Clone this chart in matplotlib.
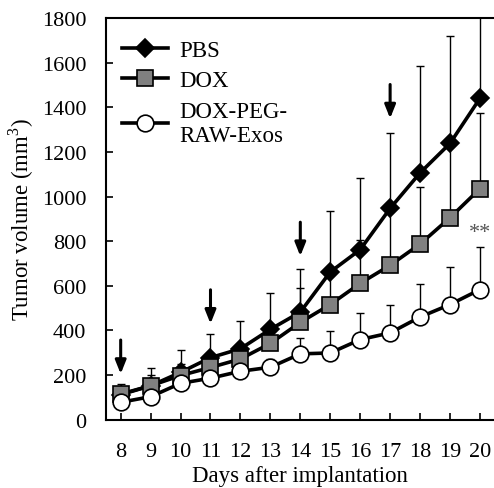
import matplotlib
matplotlib.use("Agg")
import matplotlib.pyplot as plt
import numpy as np

days = [8, 9, 10, 11, 12, 13, 14, 15, 16, 17, 18, 19, 20]
pbs_mean = [112, 152, 212, 278, 318, 405, 482, 662, 762, 947, 1106, 1238, 1440]
pbs_top = [158, 231, 312, 385, 443, 566, 674, 935, 1084, 1283, 1585, 1720, 1840]
dox_mean = [115, 152, 198, 234, 272, 342, 436, 516, 611, 692, 787, 905, 1035]
dox_top = [140, 200, 250, 290, 330, 400, 590, 655, 806, 940, 1041, 1240, 1375]
exo_mean = [78, 103, 163, 186, 217, 235, 295, 299, 359, 389, 460, 516, 583]
exo_top = [100, 130, 190, 215, 250, 270, 365, 396, 478, 516, 606, 686, 776]
arrow_days = [8, 11, 14, 17]
arrow_tips = [205, 430, 733, 1350]
arrow_len = 152
sig_day = 20
sig_y = 840
xticks = days
yticks = [0, 200, 400, 600, 800, 1000, 1200, 1400, 1600, 1800]

plt.rcParams['font.family'] = ['Liberation Serif', 'DejaVu Serif']
plt.rcParams['mathtext.fontset'] = 'custom'
plt.rcParams['mathtext.rm'] = 'Liberation Serif'

fig = plt.figure(figsize=(4.94, 4.89), dpi=100)
ax = fig.add_axes([0.214, 0.1397, 0.786, 0.8214])

def series(mean, top, marker, ms, fc, label, z):
    mean = np.array(mean); top = np.array(top)
    up = top - mean
    ax.errorbar(days, mean, yerr=[np.zeros_like(up), up], fmt='none',
                ecolor='black', elinewidth=1.0, capsize=2.8, capthick=1.0, zorder=z)
    ax.plot(days, mean, color='black', lw=2.6, marker=marker, ms=ms,
            mfc=fc, mec='black', mew=1.2, label=label, zorder=z + 0.5)

series(pbs_mean, pbs_top, 'D', 9, 'black', 'PBS', 2)
series(dox_mean, dox_top, 's', 11.5, '#808080', 'DOX', 3)
series(exo_mean, exo_top, 'o', 12, 'white', 'DOX-PEG-\nRAW-Exos', 4)

for d, t in zip(arrow_days, arrow_tips):
    ax.annotate('', xy=(d, t), xytext=(d, t + arrow_len),
                arrowprops=dict(arrowstyle='-|>,head_length=0.8,head_width=0.32',
                                lw=2.2, color='black', shrinkA=0, shrinkB=0,
                                mutation_scale=10), zorder=6)

ax.text(sig_day, sig_y, '**', ha='center', va='center', fontsize=16, color='#555555')

ax.set_xlim(7.5, 20.47)
ax.set_ylim(0, 1800)
ax.set_xticks(xticks)
ax.set_yticks(yticks)
ax.tick_params(direction='in', length=5, width=1.2, labelsize=16, pad=14)
ax.tick_params(axis='x', pad=16)
for s in ['left', 'bottom', 'top']:
    ax.spines[s].set_linewidth(1.5)
ax.spines['right'].set_visible(False)

ax.set_xlabel('Days after implantation', fontsize=16.5, labelpad=3)
ax.set_ylabel('Tumor volume (mm$^3$)', fontsize=16.5, labelpad=4)

ax.legend(loc='upper left', bbox_to_anchor=(0.0, 0.985), frameon=False, fontsize=16.5,
          handlelength=2.0, handletextpad=0.5, labelspacing=0.4, borderaxespad=0.3)

fig.savefig('out.png', dpi=100)
